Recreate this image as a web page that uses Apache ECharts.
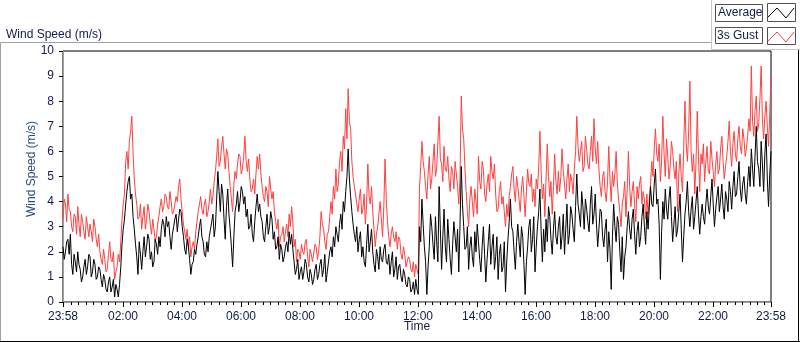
<!DOCTYPE html>
<html>
<head>
<meta charset="utf-8">
<script src="https://cdn.jsdelivr.net/npm/echarts@6/dist/echarts.min.js"></script>
<style>
  html, body { margin: 0; padding: 0; background: #fff; }
  #chart { width: 800px; height: 342px; }
</style>
</head>
<body>
<div id="chart"></div>
<script>
// readings every 5 minutes from 23:58 (…A) and the readings 2.5 min later (…B)
var STEP = 2.5;

var averageA = [
  2.2, 2.0, 2.5, 2.7, 1.1, 1.6, 2.0, 1.3, 1.0, 1.7,
  1.4, 1.8, 1.2, 1.5, 1.0, 1.3, 0.6, 0.9, 0.4, 1.0,
  0.6, 0.2, 0.5, 0.7, 2.3, 3.3, 4.4, 5.0, 4.3, 2.9,
  1.8, 2.4, 1.3, 2.6, 2.2, 2.5, 2.0, 1.6, 2.3, 2.6,
  2.9, 3.1, 3.4, 3.2, 2.1, 3.0, 3.5, 3.3, 3.6, 2.6,
  1.9, 2.2, 1.1, 1.6, 1.9, 2.6, 3.3, 2.4, 1.8, 2.0,
  2.9, 3.5, 3.0, 5.2, 3.6, 4.3, 2.5, 4.5, 2.9, 1.4,
  3.6, 4.4, 4.0, 4.4, 4.2, 3.7, 3.0, 2.7, 3.2, 4.3,
  3.9, 3.2, 2.4, 3.5, 3.0, 3.3, 2.8, 2.2, 1.7, 2.1,
  1.8, 2.4, 2.8, 2.7, 1.6, 1.3, 0.9, 1.4, 1.2, 1.5,
  0.8, 1.1, 0.9, 1.5, 1.1, 1.7, 1.3, 0.8, 1.6, 2.2,
  2.6, 3.0, 2.4, 3.5, 4.0, 4.4, 6.1, 4.2, 3.1, 2.4,
  2.0, 2.8, 2.2, 1.4, 3.1, 2.4, 2.0, 1.2, 1.8, 2.2,
  1.6, 2.3, 1.5, 1.1, 2.0, 1.3, 0.9, 1.5, 0.8, 1.1,
  0.6, 0.9, 0.5, 0.3, 0.5, 3.0, 4.1, 2.2, 0.3, 2.2,
  3.0, 1.7, 2.4, 4.6, 1.3, 3.7, 1.6, 2.5, 1.1, 3.2,
  2.0, 1.2, 5.4, 3.0, 2.2, 1.3, 2.6, 1.4, 2.0, 2.4,
  1.2, 3.0, 0.8, 2.4, 1.5, 2.7, 1.8, 0.9, 2.3, 1.4,
  0.4, 2.5, 4.1, 2.8, 1.3, 3.1, 1.8, 2.6, 0.3, 2.2,
  3.3, 2.5, 1.2, 3.0, 4.5, 1.6, 2.0, 2.4, 3.4, 1.9,
  3.6, 2.3, 3.4, 2.6, 1.9, 3.9, 2.7, 3.5, 2.4, 5.1,
  3.5, 4.4, 2.9, 3.7, 2.8, 4.6, 3.5, 3.1, 2.9, 3.6,
  2.2, 3.3, 2.8, 0.5, 3.9, 2.4, 3.1, 1.2, 0.9, 2.2,
  3.6, 2.5, 3.7, 1.9, 3.2, 2.6, 3.9, 2.3, 2.9, 4.6,
  3.8, 5.3, 4.1, 0.9, 4.0, 4.5, 3.3, 4.6, 2.4, 3.8,
  2.9, 4.3, 1.6, 3.5, 4.8, 3.0, 4.2, 3.4, 4.6, 2.7,
  3.9, 3.1, 4.5, 3.5, 4.9, 3.0, 4.2, 3.6, 4.7, 3.3,
  4.1, 4.8, 3.7, 5.2, 4.3, 5.6, 4.0, 5.0, 3.9, 5.4,
  6.1, 4.6, 7.0, 5.3, 6.4, 4.4, 6.7, 3.8, 6.0
];

var averageB = [
  1.7, 2.4, 1.9, 1.5, 1.9, 1.2, 1.5, 0.8, 1.4, 1.1,
  1.9, 1.0, 1.7, 0.9, 1.4, 0.9, 1.1, 0.5, 0.8, 0.4,
  0.9, 0.7, 0.2, 1.4, 2.9, 3.9, 4.8, 4.1, 3.4, 2.3,
  1.1, 1.9, 2.0, 1.8, 2.7, 1.7, 1.4, 2.5, 1.9, 2.2,
  3.3, 2.6, 3.0, 2.6, 2.7, 3.3, 2.8, 3.7, 3.0, 2.1,
  2.5, 1.7, 1.5, 2.1, 2.3, 3.0, 2.6, 1.9, 2.4, 2.6,
  3.2, 2.6, 4.1, 4.4, 4.7, 3.3, 3.8, 3.5, 2.2, 2.6,
  3.9, 3.6, 4.6, 3.9, 3.4, 2.9, 3.5, 2.4, 3.8, 3.6,
  3.4, 2.6, 3.0, 2.7, 3.6, 2.5, 2.1, 2.6, 2.3, 1.6,
  2.2, 2.0, 2.3, 2.1, 1.1, 1.7, 1.2, 0.9, 1.7, 1.0,
  1.3, 0.7, 1.3, 0.9, 1.5, 1.0, 1.9, 1.2, 2.0, 1.8,
  2.2, 2.7, 3.1, 2.9, 3.6, 5.0, 4.9, 3.6, 2.7, 3.0,
  2.5, 1.8, 1.6, 2.3, 2.0, 2.9, 1.5, 2.1, 1.3, 1.7,
  2.1, 1.6, 1.9, 1.6, 1.0, 1.8, 1.4, 1.0, 1.3, 0.7,
  1.0, 0.4, 0.8, 0.9, 0.3, 2.4, 3.1, 1.6, 1.4, 3.5,
  2.3, 3.4, 1.6, 2.9, 2.6, 2.2, 3.3, 1.7, 2.3, 2.6,
  2.9, 3.1, 3.9, 2.1, 3.0, 2.2, 1.8, 2.8, 3.1, 1.7,
  2.2, 1.9, 1.7, 3.1, 2.2, 1.3, 2.6, 1.9, 1.2, 2.4,
  1.6, 3.2, 3.0, 2.0, 2.4, 2.4, 3.0, 1.5, 1.6, 3.0,
  2.0, 3.4, 2.2, 3.6, 2.8, 2.9, 3.3, 3.8, 2.5, 2.9,
  2.6, 3.0, 2.1, 3.5, 2.9, 2.3, 3.8, 2.9, 3.8, 3.9,
  3.0, 3.8, 4.1, 3.2, 3.9, 3.1, 4.3, 2.2, 3.7, 2.6,
  2.9, 1.6, 2.1, 2.6, 3.0, 3.4, 2.0, 2.6, 1.8, 3.0,
  2.9, 3.3, 2.7, 2.8, 2.2, 3.4, 3.0, 3.6, 3.8, 3.9,
  4.7, 3.9, 3.1, 2.8, 3.3, 3.7, 4.1, 3.4, 3.1, 2.6,
  3.6, 2.9, 2.6, 4.0, 3.6, 3.7, 2.9, 4.0, 3.5, 3.4,
  3.4, 3.9, 3.8, 4.2, 3.9, 3.7, 4.6, 4.1, 3.8, 4.4,
  3.6, 4.4, 4.6, 4.2, 5.0, 4.5, 4.7, 4.3, 4.8, 4.6,
  5.3, 5.8, 5.6, 4.6, 5.5, 5.9, 4.9, 5.1
];

var gustA = [
  3.3, 3.9, 4.3, 3.6, 2.8, 3.4, 3.8, 2.6, 3.2, 2.5,
  3.0, 3.1, 2.4, 3.0, 2.2, 2.0, 1.5, 1.7, 1.3, 2.4,
  1.6, 0.9, 1.4, 1.6, 3.3, 4.3, 6.0, 6.4, 7.4, 4.9,
  3.9, 3.4, 2.9, 3.8, 3.3, 3.6, 2.7, 2.9, 2.6, 3.4,
  4.1, 3.8, 4.2, 3.7, 4.0, 3.6, 4.2, 4.6, 4.1, 3.1,
  2.5, 2.2, 1.8, 2.4, 2.8, 3.6, 4.2, 3.5, 4.1, 3.6,
  4.5, 4.2, 5.2, 6.5, 5.6, 6.6, 5.3, 5.9, 4.6, 3.6,
  5.2, 5.5, 5.8, 5.3, 6.6, 5.2, 4.9, 4.5, 4.3, 5.8,
  5.9, 4.6, 4.0, 4.4, 5.0, 4.1, 3.6, 2.9, 2.2, 2.7,
  2.4, 3.1, 3.5, 3.8, 2.2, 1.6, 2.0, 2.3, 1.9, 2.5,
  1.4, 1.9, 1.6, 2.2, 2.0, 3.6, 2.9, 2.1, 2.8, 4.0,
  4.6, 5.3, 4.7, 6.0, 6.6, 7.7, 8.5, 6.9, 5.0, 4.3,
  3.6, 4.5, 3.7, 3.1, 5.5, 3.9, 3.6, 2.2, 3.0, 4.0,
  2.6, 5.7, 3.2, 2.2, 3.0, 2.4, 2.1, 2.5, 1.7, 1.9,
  1.4, 1.7, 1.2, 1.0, 1.3, 4.5, 6.4, 5.2, 4.1, 5.8,
  4.9, 6.3, 5.3, 7.4, 5.5, 6.2, 5.2, 4.9, 5.4, 4.5,
  5.1, 3.9, 8.2, 6.5, 4.4, 3.0, 4.6, 3.4, 4.0, 5.8,
  4.5, 5.3, 4.0, 5.1, 5.8, 4.9, 4.3, 3.7, 4.8, 4.2,
  3.0, 3.4, 4.6, 5.4, 4.0, 4.6, 3.6, 5.0, 3.4, 5.3,
  4.6, 4.0, 3.8, 4.5, 6.8, 4.1, 3.4, 6.3, 4.2, 3.5,
  5.9, 4.3, 4.4, 6.1, 4.7, 4.9, 4.4, 4.8, 5.3, 7.4,
  5.6, 6.4, 5.4, 6.1, 5.3, 6.6, 7.3, 5.5, 5.3, 4.2,
  5.2, 4.0, 6.2, 4.0, 4.6, 6.0, 4.1, 3.0, 4.2, 3.4,
  6.0, 3.8, 4.8, 3.2, 4.1, 5.0, 4.4, 3.3, 3.5, 4.7,
  5.0, 6.9, 5.6, 4.8, 7.4, 5.0, 5.8, 5.4, 6.0, 4.9,
  3.6, 5.9, 4.4, 8.0, 5.6, 8.8, 5.2, 4.3, 7.6, 4.4,
  5.5, 4.8, 6.2, 5.1, 5.7, 4.6, 6.0, 5.3, 6.6, 4.9,
  5.8, 7.2, 5.4, 6.8, 5.6, 7.0, 5.9, 6.5, 6.1, 7.3,
  9.4, 6.6, 8.2, 7.1, 9.4, 6.5, 8.0, 6.2, 9.0
];

var gustB = [
  4.1, 3.2, 3.7, 3.0, 3.5, 2.7, 3.1, 3.5, 2.8, 3.4,
  2.6, 2.8, 3.3, 2.5, 2.7, 1.7, 2.1, 1.2, 1.9, 1.7,
  2.0, 1.2, 1.9, 2.4, 3.9, 5.6, 5.3, 6.8, 5.9, 4.3,
  3.3, 3.9, 3.4, 2.9, 3.9, 3.1, 3.3, 2.4, 3.1, 3.8,
  3.6, 4.3, 3.8, 4.4, 3.5, 3.9, 4.0, 4.9, 3.6, 2.8,
  2.9, 2.6, 2.2, 2.1, 3.2, 3.9, 3.7, 3.9, 3.4, 4.0,
  3.9, 4.8, 5.8, 5.4, 6.2, 5.9, 6.1, 5.2, 4.1, 4.7,
  4.9, 5.9, 5.1, 5.8, 5.6, 5.7, 4.4, 4.9, 5.1, 5.3,
  5.1, 4.2, 4.6, 3.8, 4.5, 4.4, 3.2, 3.3, 2.6, 3.0,
  2.8, 2.6, 3.0, 3.2, 2.5, 2.1, 1.7, 2.0, 2.4, 1.8,
  2.1, 1.6, 2.3, 1.7, 2.6, 3.1, 2.4, 2.7, 3.4, 3.5,
  4.1, 4.4, 5.6, 5.2, 6.1, 6.5, 7.2, 5.6, 4.6, 3.9,
  4.1, 3.5, 4.3, 3.9, 4.2, 4.6, 2.9, 2.7, 3.5, 3.3,
  3.8, 4.1, 2.6, 2.7, 2.6, 2.8, 2.6, 1.9, 2.2, 1.4,
  1.8, 1.3, 1.6, 1.5, 1.1, 5.4, 5.6, 4.6, 5.1, 4.5,
  5.6, 5.0, 6.4, 5.7, 4.8, 5.3, 5.8, 4.4, 5.2, 5.6,
  4.6, 5.0, 6.9, 5.3, 3.6, 4.1, 4.0, 4.5, 3.5, 4.8,
  5.6, 4.3, 4.7, 4.4, 5.2, 5.5, 3.6, 4.4, 3.9, 3.6,
  3.9, 4.2, 5.1, 4.5, 5.0, 4.1, 4.5, 4.2, 4.4, 4.7,
  5.1, 4.5, 4.9, 5.4, 5.2, 4.7, 4.9, 5.0, 4.8, 4.6,
  4.8, 5.2, 5.0, 5.2, 4.1, 5.5, 5.1, 4.3, 6.0, 6.2,
  6.0, 5.2, 6.6, 5.5, 6.0, 5.6, 6.1, 6.4, 4.6, 5.0,
  4.4, 4.8, 4.9, 5.2, 5.1, 4.7, 3.6, 3.9, 4.8, 4.5,
  4.6, 4.4, 3.9, 4.6, 4.7, 3.9, 4.1, 4.3, 4.1, 5.6,
  6.1, 5.9, 6.3, 5.6, 5.9, 6.5, 4.9, 6.4, 5.3, 5.6,
  5.1, 5.0, 6.2, 6.3, 6.8, 6.0, 5.9, 5.6, 5.8, 5.9,
  6.3, 5.6, 5.2, 6.4, 5.2, 5.5, 5.1, 6.1, 5.6, 5.4,
  6.4, 6.0, 6.3, 5.9, 6.5, 6.2, 6.9, 5.8, 6.6, 6.8,
  7.2, 7.6, 6.8, 8.1, 7.3, 7.4, 7.0, 7.5
];

// minutes after 23:58 and the text shown there
var xLabelPos = [0, 122, 242, 362, 482, 602, 722, 842, 962, 1082, 1202, 1322, 1440];
var xLabels = ['23:58', '02:00', '04:00', '06:00', '08:00', '10:00', '12:00',
               '14:00', '16:00', '18:00', '20:00', '22:00', '23:58'];

// 15 minute minor ticks (00:00 is 2 minutes after start)
var minorTicks = [];
for (var k = 1; k < 96; k++) {
  if (k % 8 !== 0) minorTicks.push(2 + 15 * k);
}

var FONT = 'Liberation Sans';
var TXT = '#141a48';

var chart = echarts.init(document.getElementById('chart'));

// merge the two reading sets back into time order
function toPairs(a, b) {
  var out = [];
  for (var i = 0; i < a.length; i++) {
    out.push([i * 2 * STEP, a[i]]);
    if (i < b.length) out.push([(i * 2 + 1) * STEP, b[i]]);
  }
  return out;
}

function zigzag(y0, color) {
  return {
    type: 'polyline',
    shape: { points: [[768, y0 + 13], [777, y0 + 4], [786, y0 + 14], [794, y0 + 4]] },
    style: { stroke: color, lineWidth: 1, fill: null },
    silent: true
  };
}

var option = {
  animation: false,
  backgroundColor: '#fff',
  title: {
    text: 'Wind Speed (m/s)',
    left: 1,
    top: 24,
    textStyle: { fontFamily: FONT, fontSize: 12, fontWeight: 'normal', color: TXT }
  },
  grid: {
    left: 63, right: 29, top: 51, bottom: 40,
    show: true, borderColor: '#000', borderWidth: 1, backgroundColor: '#fff'
  },
  xAxis: [{
    type: 'value',
    min: 0,
    max: 1440,
    position: 'bottom',
    name: 'Time',
    nameLocation: 'middle',
    nameGap: 19,
    nameMoveOverlap: false,
    nameTextStyle: { fontFamily: FONT, fontSize: 12, color: TXT },
    axisLine: { lineStyle: { color: '#a0a0a0', width: 1 } },
    axisTick: { show: true, length: 5, customValues: xLabelPos, lineStyle: { color: '#000' } },
    axisLabel: {
      customValues: xLabelPos,
      margin: 9,
      fontFamily: FONT, fontSize: 12, color: TXT,
      formatter: function(v) { return xLabels[xLabelPos.indexOf(v)] || ''; }
    },
    splitLine: { show: false }
  }, {
    type: 'value',
    min: 0,
    max: 1440,
    position: 'bottom',
    axisLine: { show: false },
    axisTick: { show: true, length: 3, customValues: minorTicks, lineStyle: { color: '#000' } },
    axisLabel: { show: false },
    splitLine: { show: false }
  }],
  yAxis: [{
    type: 'value',
    min: 0,
    max: 10,
    interval: 1,
    axisLine: { show: true, lineStyle: { color: '#000' } },
    axisTick: { show: true, length: 4, lineStyle: { color: '#000' } },
    axisLabel: { margin: 9, fontFamily: FONT, fontSize: 12, color: TXT },
    splitLine: { show: false }
  }, {
    type: 'value',
    min: 0,
    max: 10,
    position: 'right',
    axisLine: { show: true, lineStyle: { color: '#a0a0a0' } },
    axisTick: { show: false },
    axisLabel: { show: false },
    splitLine: { show: false }
  }],
  graphic: [
    // outer panel frame
    { type: 'line', shape: { x1: 0.5, y1: 42.5, x2: 711, y2: 42.5 }, style: { stroke: '#a0a0a0', lineWidth: 1 }, silent: true },
    { type: 'line', shape: { x1: 0.5, y1: 42.5, x2: 0.5, y2: 342 }, style: { stroke: '#a0a0a0', lineWidth: 1 }, silent: true },
    { type: 'line', shape: { x1: 0, y1: 341.5, x2: 800, y2: 341.5 }, style: { stroke: '#000', lineWidth: 1 }, silent: true },
    { type: 'line', shape: { x1: 798.5, y1: 49, x2: 798.5, y2: 342 }, style: { stroke: '#000', lineWidth: 1 }, silent: true },
    // legend panel
    { type: 'line', shape: { x1: 711.5, y1: 0, x2: 711.5, y2: 49.5 }, style: { stroke: '#c8c8c8', lineWidth: 1 }, silent: true },
    { type: 'line', shape: { x1: 711.5, y1: 49.5, x2: 800, y2: 49.5 }, style: { stroke: '#c8c8c8', lineWidth: 1 }, silent: true },
    { type: 'rect', shape: { x: 715.5, y: 4.5, width: 47, height: 17 }, style: { fill: '#fff', stroke: '#505050', lineWidth: 1 }, silent: true },
    { type: 'text', x: 718, y: 13, style: { text: 'Average', fontFamily: FONT, fontSize: 12, fill: TXT, verticalAlign: 'middle' }, silent: true },
    { type: 'rect', shape: { x: 767.5, y: 3.5, width: 28, height: 18 }, style: { fill: '#fff', stroke: '#505050', lineWidth: 1 }, silent: true },
    zigzag(4, '#000'),
    { type: 'rect', shape: { x: 715.5, y: 27.5, width: 47, height: 16 }, style: { fill: '#fff', stroke: '#505050', lineWidth: 1 }, silent: true },
    { type: 'text', x: 717, y: 36, style: { text: '3s Gust', fontFamily: FONT, fontSize: 12, fill: TXT, verticalAlign: 'middle' }, silent: true },
    { type: 'rect', shape: { x: 767.5, y: 27.5, width: 28, height: 17 }, style: { fill: '#fff', stroke: '#505050', lineWidth: 1 }, silent: true },
    zigzag(28, '#ff4040'),
    // y axis title
    {
      type: 'text', x: 32, y: 169, rotation: Math.PI / 2,
      style: { text: 'Wind Speed (m/s)', fontFamily: FONT, fontSize: 12, fill: '#2b4a7e', align: 'center', verticalAlign: 'middle' },
      silent: true
    }
  ],
  series: [{
    name: '3s Gust',
    type: 'line',
    data: toPairs(gustA, gustB),
    showSymbol: false,
    lineStyle: { color: '#ff4040', width: 1 },
    itemStyle: { color: '#ff4040' }
  }, {
    name: 'Average',
    type: 'line',
    data: toPairs(averageA, averageB),
    showSymbol: false,
    lineStyle: { color: '#000', width: 1 },
    itemStyle: { color: '#000' }
  }]
};

chart.setOption(option);
</script>
</body>
</html>
